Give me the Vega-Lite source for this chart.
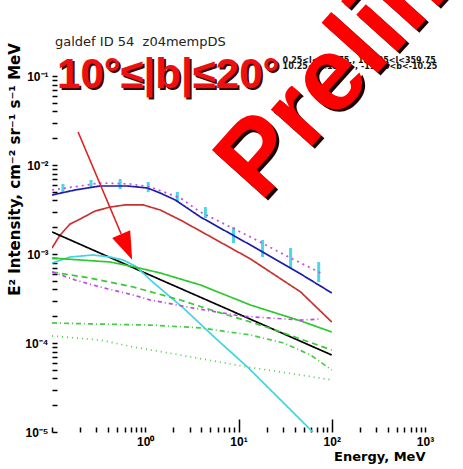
{
  "$schema": "https://vega.github.io/schema/vega-lite/v6.json",
  "width": 373,
  "height": 356,
  "autosize": {"type": "none"},
  "padding": {"left": 52, "top": 76, "right": 38, "bottom": 37},
  "background": "white",
  "config": {"view": {"stroke": null}, "font": "Liberation Sans"},
  "datasets": {
    "curves": [
      {"series": "total", "E": 0.1, "I": 0.0046},
      {"series": "total", "E": 0.177, "I": 0.00524},
      {"series": "total", "E": 0.328, "I": 0.00581},
      {"series": "total", "E": 0.64, "I": 0.00581},
      {"series": "total", "E": 1.052, "I": 0.00552},
      {"series": "total", "E": 1.449, "I": 0.00484},
      {"series": "total", "E": 2.104, "I": 0.00404},
      {"series": "total", "E": 3.899, "I": 0.00261},
      {"series": "total", "E": 13.46, "I": 0.00126},
      {"series": "total", "E": 46.45, "I": 0.000596},
      {"series": "total", "E": 100, "I": 0.000365},
      {"series": "model2", "E": 0.1, "I": 0.00524},
      {"series": "model2", "E": 0.2, "I": 0.00581},
      {"series": "model2", "E": 0.328, "I": 0.00628},
      {"series": "model2", "E": 0.69, "I": 0.00612},
      {"series": "model2", "E": 1.132, "I": 0.00566},
      {"series": "model2", "E": 2.377, "I": 0.00426},
      {"series": "model2", "E": 3.899, "I": 0.00296},
      {"series": "model2", "E": 13.46, "I": 0.00155},
      {"series": "model2", "E": 36.22, "I": 0.000902},
      {"series": "model2", "E": 76.21, "I": 0.000612},
      {"series": "pi0", "E": 0.1, "I": 0.00117},
      {"series": "pi0", "E": 0.122, "I": 0.00163},
      {"series": "pi0", "E": 0.156, "I": 0.00217},
      {"series": "pi0", "E": 0.2, "I": 0.00247},
      {"series": "pi0", "E": 0.29, "I": 0.00304},
      {"series": "pi0", "E": 0.421, "I": 0.00337},
      {"series": "pi0", "E": 0.61, "I": 0.00356},
      {"series": "pi0", "E": 0.951, "I": 0.00356},
      {"series": "pi0", "E": 1.449, "I": 0.00312},
      {"series": "pi0", "E": 2.377, "I": 0.00241},
      {"series": "pi0", "E": 3.899, "I": 0.00181},
      {"series": "pi0", "E": 13.46, "I": 0.000879},
      {"series": "pi0", "E": 46.45, "I": 0.000374},
      {"series": "pi0", "E": 100, "I": 0.000172},
      {"series": "egb", "E": 0.1, "I": 0.00177},
      {"series": "egb", "E": 1, "I": 0.000611},
      {"series": "egb", "E": 10, "I": 0.000212},
      {"series": "egb", "E": 100, "I": 0.0000733},
      {"series": "brems", "E": 0.1, "I": 0.000792},
      {"series": "brems", "E": 0.156, "I": 0.000925},
      {"series": "brems", "E": 0.276, "I": 0.000975},
      {"series": "brems", "E": 0.421, "I": 0.000925},
      {"series": "brems", "E": 0.579, "I": 0.000857},
      {"series": "brems", "E": 0.78, "I": 0.000733},
      {"series": "brems", "E": 1.0, "I": 0.000581},
      {"series": "brems", "E": 1.132, "I": 0.000511},
      {"series": "brems", "E": 2.565, "I": 0.000247},
      {"series": "brems", "E": 5.943, "I": 0.000108},
      {"series": "brems", "E": 12.5, "I": 0.0000537},
      {"series": "brems", "E": 28.31, "I": 0.0000229},
      {"series": "brems", "E": 55.21, "I": 0.0000114},
      {"series": "brems", "E": 67.3, "I": 0.00000925},
      {"series": "ic", "E": 0.1, "I": 0.000902},
      {"series": "ic", "E": 0.2, "I": 0.000857},
      {"series": "ic", "E": 0.421, "I": 0.000813},
      {"series": "ic", "E": 0.69, "I": 0.000733},
      {"series": "ic", "E": 1.449, "I": 0.000612},
      {"series": "ic", "E": 3.899, "I": 0.000449},
      {"series": "ic", "E": 13.46, "I": 0.000267},
      {"series": "ic", "E": 46.45, "I": 0.000177},
      {"series": "ic", "E": 100, "I": 0.000133},
      {"series": "ic1", "E": 0.1, "I": 0.000628},
      {"series": "ic1", "E": 0.256, "I": 0.000537},
      {"series": "ic1", "E": 0.743, "I": 0.000426},
      {"series": "ic1", "E": 2.377, "I": 0.000304},
      {"series": "ic1", "E": 5.943, "I": 0.000223},
      {"series": "ic1", "E": 17.26, "I": 0.000159},
      {"series": "ic1", "E": 43.05, "I": 0.000114},
      {"series": "ic1", "E": 100, "I": 0.0000834},
      {"series": "ic2", "E": 0.1, "I": 0.000168},
      {"series": "ic2", "E": 0.328, "I": 0.000163},
      {"series": "ic2", "E": 1.132, "I": 0.000159},
      {"series": "ic2", "E": 3.899, "I": 0.000148},
      {"series": "ic2", "E": 13.46, "I": 0.000123},
      {"series": "ic2", "E": 30.48, "I": 0.0001},
      {"series": "ic2", "E": 59.43, "I": 0.0000733},
      {"series": "ic2", "E": 100, "I": 0.0000497},
      {"series": "ic3", "E": 0.1, "I": 0.00012},
      {"series": "ic3", "E": 0.328, "I": 0.000108},
      {"series": "ic3", "E": 0.743, "I": 0.0000902},
      {"series": "ic3", "E": 2.377, "I": 0.0000733},
      {"series": "ic3", "E": 12.5, "I": 0.0000537},
      {"series": "ic3", "E": 46.45, "I": 0.0000437},
      {"series": "ic3", "E": 100, "I": 0.0000384},
      {"series": "src", "E": 0.1, "I": 0.000628},
      {"series": "src", "E": 0.177, "I": 0.000511},
      {"series": "src", "E": 0.328, "I": 0.000426},
      {"series": "src", "E": 0.743, "I": 0.000346},
      {"series": "src", "E": 1.132, "I": 0.000304},
      {"series": "src", "E": 3.281, "I": 0.000247},
      {"series": "src", "E": 10.52, "I": 0.000201},
      {"series": "src", "E": 46.45, "I": 0.000181},
      {"series": "src", "E": 76.21, "I": 0.000186}
    ],
    "points": [
      {"E": 0.131, "lo": 0.00498, "hi": 0.00612},
      {"E": 0.262, "lo": 0.00552, "hi": 0.00678},
      {"E": 0.538, "lo": 0.00537, "hi": 0.00697},
      {"E": 1.076, "lo": 0.00498, "hi": 0.00644},
      {"E": 2.208, "lo": 0.00384, "hi": 0.00498},
      {"E": 4.416, "lo": 0.00254, "hi": 0.00337},
      {"E": 8.831, "lo": 0.00133, "hi": 0.00201},
      {"E": 18.11, "lo": 0.000925, "hi": 0.00144},
      {"E": 36.22, "lo": 0.000697, "hi": 0.00117},
      {"E": 72.44, "lo": 0.000484, "hi": 0.000813}
    ]
  },
  "layer": [
    {
      "data": {"name": "points"},
      "mark": {"type": "rule", "strokeWidth": 3, "color": "#4cd6e6"},
      "encoding": {
        "x": {"field": "E", "type": "quantitative", "scale": {"type": "log", "domain": [0.1, 1000], "nice": false},
          "axis": {"values": [0.1,0.2,0.3,0.4,0.5,0.6,0.7,0.8,0.9,1,2,3,4,5,6,7,8,9,10,20,30,40,50,60,70,80,90,100,200,300,400,500,600,700,800,900,1000],
            "labelExpr": "datum.value == 1 ? '10⁰' : datum.value == 10 ? '10¹' : datum.value == 100 ? '10²' : datum.value == 1000 ? '10³' : ''",
            "tickSize": {"condition": {"test": "datum.value == 10 || datum.value == 100", "value": -13}, "value": -5},
            "labelPadding": {"condition": {"test": "datum.value == 10 || datum.value == 100", "value": 17}, "value": 9},
            "tickColor": "black", "tickWidth": 1.5, "domain": false, "grid": false,
            "labelFontSize": 12, "labelFontWeight": "bold", "labelColor": "black", "labelOverlap": false, "labelFlush": false,
            "title": "Energy, MeV", "titleFont": "DejaVu Sans", "titleFontSize": 13, "titleFontWeight": "bold", "titleColor": "black", "titleX": 373, "titleY": 24, "titleAlign": "right", "titleAnchor": "end", "titleBaseline": "middle"}},
        "y": {"field": "lo", "type": "quantitative", "scale": {"type": "log", "domain": [0.00001, 0.1], "nice": false},
          "axis": {"values": [0.00001,0.00002,0.00003,0.00004,0.00005,0.00006,0.00007,0.00008,0.00009,0.0001,0.0002,0.0003,0.0004,0.0005,0.0006,0.0007,0.0008,0.0009,0.001,0.002,0.003,0.004,0.005,0.006,0.007,0.008,0.009,0.01,0.02,0.03,0.04,0.05,0.06,0.07,0.08,0.09,0.1],
            "labelExpr": "datum.value == 0.1 ? '10⁻¹' : datum.value == 0.01 ? '10⁻²' : datum.value == 0.001 ? '10⁻³' : datum.value == 0.0001 ? '10⁻⁴' : datum.value == 0.00001 ? '10⁻⁵' : ''",
            "tickSize": -5, "tickColor": "black", "tickWidth": 1.5, "domain": false, "grid": false,
            "labelFontSize": 12, "labelFontWeight": "bold", "labelColor": "black", "labelPadding": 9, "labelOverlap": false, "labelFlush": false,
            "title": "E² Intensity, cm⁻² sr⁻¹ s⁻¹ MeV", "titleFont": "DejaVu Sans", "titleFontSize": 15, "titleFontWeight": "bold", "titleColor": "black", "titleAngle": -90, "titleX": -38, "titleY": 93, "titleAlign": "center", "titleBaseline": "middle"}},
        "y2": {"field": "hi"}
      }
    },
    {
      "data": {"name": "curves"},
      "mark": {"type": "line", "strokeWidth": 1.7, "clip": true},
      "encoding": {
        "x": {"field": "E", "type": "quantitative"},
        "y": {"field": "I", "type": "quantitative"},
        "color": {"field": "series", "type": "nominal", "legend": null,
          "scale": {"domain": ["total","model2","pi0","egb","brems","ic","ic1","ic2","ic3","src"],
                    "range": ["#1c1caa","#c04ee0","#c83232","#000000","#40d4e4","#2ec82e","#3ac83a","#44cc44","#44cc44","#b84ee0"]}},
        "strokeDash": {"field": "series", "type": "nominal", "legend": null,
          "scale": {"domain": ["total","model2","pi0","egb","brems","ic","ic1","ic2","ic3","src"],
                    "range": [[1,0],[2,4],[1,0],[1,0],[1,0],[1,0],[6,4],[5,3,1,3],[1,4],[4,3,1,3]]}}
      }
    },
    {
      "data": {"values": [{}]},
      "mark": {"type": "rule", "color": "#e02020", "strokeWidth": 1.6},
      "encoding": {
        "x": {"datum": 0.1904, "type": "quantitative"},
        "y": {"datum": 0.0235, "type": "quantitative"},
        "x2": {"datum": 0.552},
        "y2": {"datum": 0.00168}
      }
    },
    {
      "data": {"values": [{}]},
      "mark": {"type": "point", "shape": "M-0.7,-1L0.7,-1L0,1Z", "size": 784, "angle": -23, "filled": true, "color": "#ff0000", "opacity": 1},
      "encoding": {
        "x": {"datum": 0.632, "type": "quantitative"},
        "y": {"datum": 0.0012, "type": "quantitative"}
      }
    },
    {
      "data": {"values": [{}]},
      "mark": {"type": "text", "text": "galdef ID 54\u00a0 z04mempDS", "font": "DejaVu Sans", "fontSize": 13, "align": "left", "baseline": "alphabetic", "color": "#222222"},
      "encoding": {"x": {"datum": 0.1077, "type": "quantitative"}, "y": {"datum": 0.2173, "type": "quantitative"}}
    },
    {
      "data": {"values": [{}]},
      "mark": {"type": "text", "text": "10°≤|b|≤20°", "fontSize": 42, "fontWeight": "bold", "align": "left", "baseline": "alphabetic", "color": "#3a0000", "dx": 2, "dy": 2},
      "encoding": {"x": {"datum": 0.1132, "type": "quantitative"}, "y": {"datum": 0.0733, "type": "quantitative"}}
    },
    {
      "data": {"values": [{}]},
      "mark": {"type": "text", "text": "10°≤|b|≤20°", "fontSize": 42, "fontWeight": "bold", "align": "left", "baseline": "alphabetic", "color": "#ee1010"},
      "encoding": {"x": {"datum": 0.1132, "type": "quantitative"}, "y": {"datum": 0.0733, "type": "quantitative"}}
    },
    {
      "data": {"values": [{}]},
      "mark": {"type": "text", "text": "0.25<l<179.75 , 180.25<l<359.75", "font": "DejaVu Sans", "fontSize": 8, "fontWeight": "bold", "align": "left", "baseline": "alphabetic", "color": "#111111"},
      "encoding": {"x": {"datum": 29.7, "type": "quantitative"}, "y": {"datum": 0.14, "type": "quantitative"}}
    },
    {
      "data": {"values": [{}]},
      "mark": {"type": "text", "text": "10.25<b<19.75 , -19.75<b<-10.25", "font": "DejaVu Sans", "fontSize": 8, "fontWeight": "bold", "align": "left", "baseline": "alphabetic", "color": "#111111"},
      "encoding": {"x": {"datum": 29.7, "type": "quantitative"}, "y": {"datum": 0.12, "type": "quantitative"}}
    },
    {
      "data": {"values": [{}]},
      "mark": {"type": "text", "text": "Preliminary", "fontSize": 104, "fontWeight": "bold", "align": "left", "baseline": "alphabetic", "angle": -48, "color": "#200000", "dx": 0, "dy": 4},
      "encoding": {"x": {"datum": 17.26, "type": "quantitative"}, "y": {"datum": 0.00374, "type": "quantitative"}}
    },
    {
      "data": {"values": [{}]},
      "mark": {"type": "text", "text": "Preliminary", "fontSize": 104, "fontWeight": "bold", "align": "left", "baseline": "alphabetic", "angle": -48, "color": "#ff0000"},
      "encoding": {"x": {"datum": 17.26, "type": "quantitative"}, "y": {"datum": 0.00374, "type": "quantitative"}}
    }
  ]
}
